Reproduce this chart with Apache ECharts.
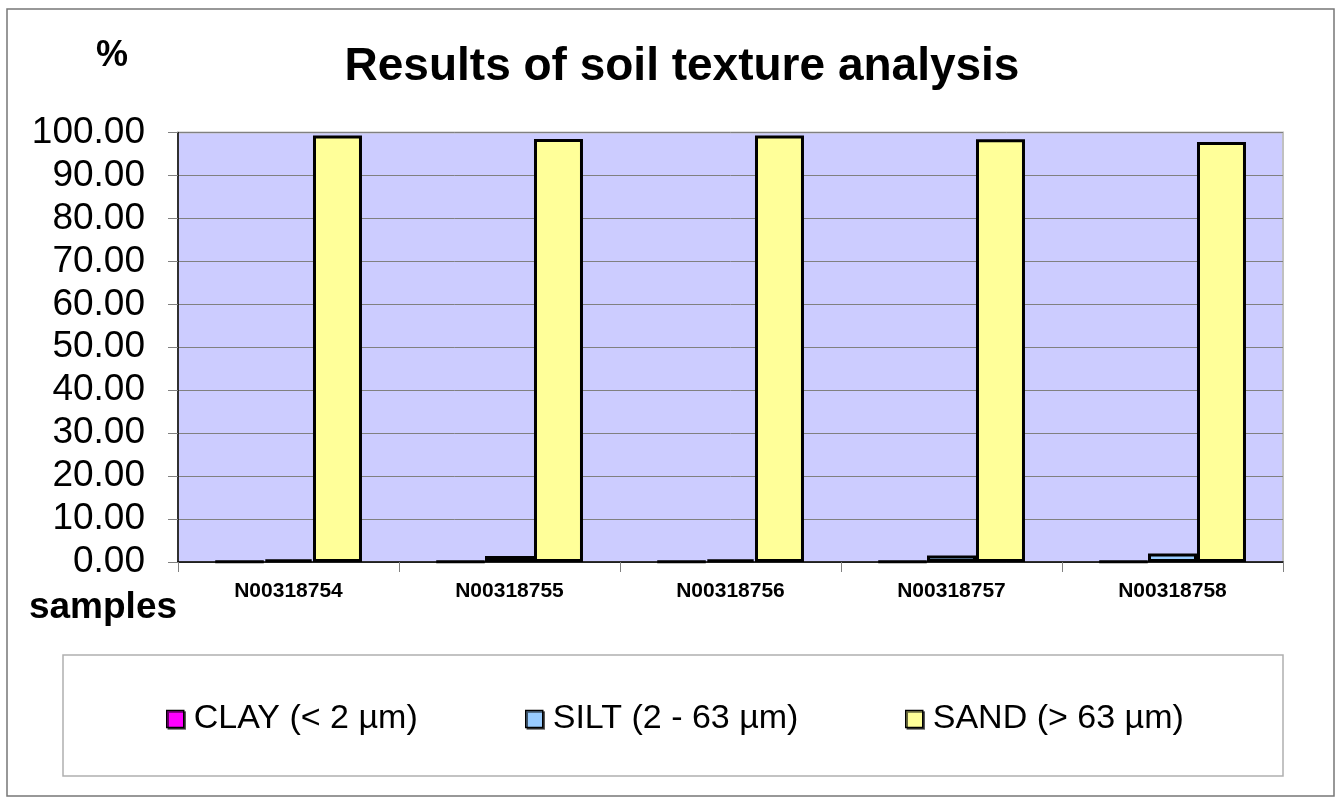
<!DOCTYPE html>
<html>
<head>
<meta charset="utf-8">
<script src="https://cdn.jsdelivr.net/npm/echarts@6/dist/echarts.min.js"></script>
<style>html,body{margin:0;padding:0;background:#fff;}#c{width:1337px;height:800px;}</style>
</head>
<body>
<div id="c"></div>
<script>
const categories = ['N00318754', 'N00318755', 'N00318756', 'N00318757', 'N00318758'];
const seriesNames = ['CLAY (< 2 µm)', 'SILT (2 - 63 µm)', 'SAND (> 63 µm)'];
const clay = [0.1, 0.1, 0.1, 0.1, 0.1];
const silt = [0.6, 1.4, 0.6, 1.5, 2.0];
const sand = [99.3, 98.5, 99.3, 98.4, 97.8];
const colors = ['#FF00FF', '#99CCFF', '#FFFF99'];
const FONT = '"Liberation Sans", Arial, sans-serif';

const chart = echarts.init(document.getElementById('c'));
const legendLefts = [166, 525, 905];
const values = [clay, silt, sand];

chart.setOption({
  animation: false,
  backgroundColor: '#fff',
  textStyle: { fontFamily: FONT },
  grid: {
    left: 178, right: 54, top: 132.5, bottom: 238,
    show: true, backgroundColor: '#CCCCFF', borderColor: '#C0C0C0', borderWidth: 2
  },
  legend: seriesNames.map((n, i) => ({
    data: [n], left: legendLefts[i], top: 702, padding: 0,
    icon: 'rect', itemWidth: 17, itemHeight: 17,
    itemStyle: { borderColor: '#000', borderWidth: 1.5, shadowColor: 'rgba(0,0,0,0.6)', shadowOffsetX: 1.5, shadowOffsetY: 1.5 },
    textStyle: { fontSize: 34, color: '#000', fontFamily: FONT, padding: [0, 0, 0, 5] },
    selectedMode: false
  })),
  xAxis: {
    type: 'category', data: categories,
    axisLine: { show: true, lineStyle: { color: '#000', width: 1.5 } },
    axisTick: { show: true, length: 10, lineStyle: { color: '#808080', width: 1 } },
    axisLabel: { fontSize: 21, fontWeight: 'bold', color: '#000', margin: 19, fontFamily: FONT }
  },
  yAxis: {
    type: 'value', min: 0, max: 100, interval: 10,
    axisLine: { show: true, lineStyle: { color: '#000', width: 1.5 } },
    axisTick: { show: true, length: 10, lineStyle: { color: '#808080', width: 1 } },
    splitLine: { show: true, lineStyle: { color: '#808080', width: 1 } },
    axisLabel: { fontSize: 37, color: '#000', margin: 33, fontFamily: FONT,
      formatter: v => v.toFixed(2) }
  },
  series: seriesNames.map((n, i) => ({
    name: n, type: 'bar', data: values[i],
    barGap: '0%', barCategoryGap: '33.5%',
    itemStyle: { color: colors[i], borderColor: '#000', borderWidth: 3 }
  })),
  graphic: [
    { type: 'rect', shape: { x: 7, y: 9, width: 1327, height: 787 }, style: { fill: 'none', stroke: '#777', lineWidth: 1.5 }, z: -1 },
    { type: 'rect', shape: { x: 63, y: 655, width: 1220, height: 121 }, style: { fill: 'none', stroke: '#B0B0B0', lineWidth: 1.5 }, z: -1 },
    { type: 'text', x: 682, y: 67, style: { text: 'Results of soil texture analysis', font: 'bold 46px ' + FONT, fill: '#000', textAlign: 'center', textVerticalAlign: 'middle' } },
    { type: 'text', x: 112, y: 56, style: { text: '%', font: 'bold 36px ' + FONT, fill: '#000', textAlign: 'center', textVerticalAlign: 'middle' } },
    { type: 'text', x: 103, y: 608, style: { text: 'samples', font: 'bold 37px ' + FONT, fill: '#000', textAlign: 'center', textVerticalAlign: 'middle' } }
  ]
});
</script>
</body>
</html>
